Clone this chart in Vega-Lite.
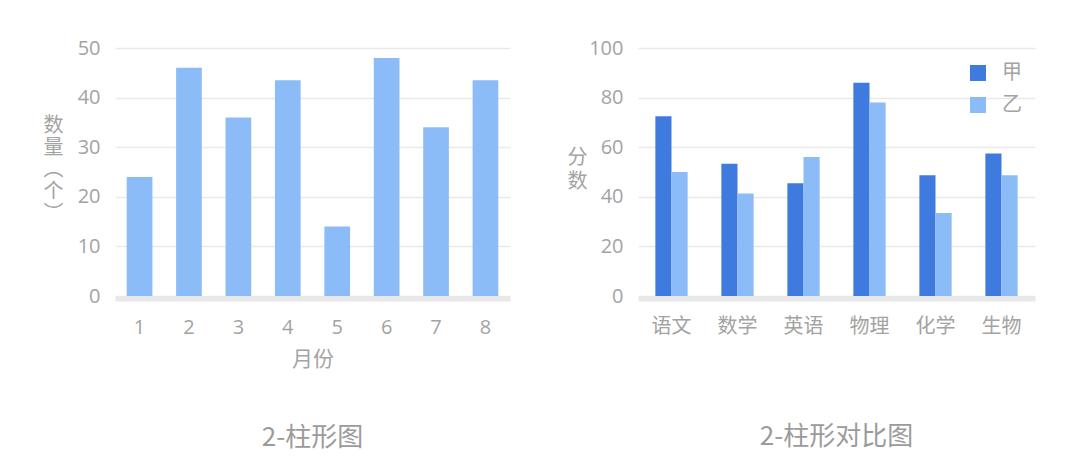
{
  "$schema": "https://vega.github.io/schema/vega-lite/v6.json",
  "background": "white",
  "padding": {"left": 43, "top": 38, "right": 45, "bottom": 0},
  "bounds": "flush",
  "spacing": 128,
  "config": {
    "view": {"stroke": null},
    "font": "Noto Sans CJK SC",
    "axis": {
      "labelColor": "#a3a3a3",
      "titleColor": "#a3a3a3",
      "labelFont": "Open Sans, Noto Sans CJK SC",
      "labelFontSize": 20,
      "titleFont": "Noto Sans CJK SC",
      "titleFontSize": 20,
      "titleFontWeight": "normal",
      "ticks": false,
      "tickSize": 0,
      "gridColor": "#e9e9e9",
      "gridWidth": 1.5
    },
    "title": {"fontSize": 26, "fontWeight": "normal", "color": "#9b9b9b"}
  },
  "hconcat": [
    {
      "width": 395,
      "height": 248,
      "title": {"text": "2-柱形图", "orient": "bottom", "offset": 55},
      "data": {
        "values": [
          {"month": "1", "count": 24},
          {"month": "2", "count": 46},
          {"month": "3", "count": 36},
          {"month": "4", "count": 43.5},
          {"month": "5", "count": 14},
          {"month": "6", "count": 48},
          {"month": "7", "count": 34},
          {"month": "8", "count": 43.5}
        ]
      },
      "mark": {"type": "bar", "color": "#8cbcf8"},
      "encoding": {
        "x": {
          "field": "month",
          "type": "ordinal",
          "scale": {"paddingInner": 0.48, "paddingOuter": 0.237},
          "axis": {
            "title": "月份",
            "titleFontSize": 21,
            "titlePadding": 11,
            "labelAngle": 0,
            "labelPadding": 19,
            "offset": 2.5,
            "domain": true,
            "domainColor": "#e8e8e8",
            "domainWidth": 5,
            "grid": false
          }
        },
        "y": {
          "field": "count",
          "type": "quantitative",
          "scale": {"domain": [0, 50]},
          "axis": {
            "values": [0, 10, 20, 30, 40, 50],
            "domain": false,
            "labelPadding": 15,
            "title": ["数", "量", "︵", "个", "︶"],
            "titleAngle": 0,
            "titleX": -62,
            "titleY": 77,
            "titleAlign": "center",
            "titleBaseline": "middle",
            "titleLineHeight": 22
          }
        }
      }
    },
    {
      "width": 397,
      "height": 248,
      "title": {"text": "2-柱形对比图", "orient": "bottom", "offset": 87},
      "data": {
        "values": [
          {"subject": "语文", "student": "甲", "score": 72.5},
          {"subject": "语文", "student": "乙", "score": 50},
          {"subject": "数学", "student": "甲", "score": 53.3},
          {"subject": "数学", "student": "乙", "score": 41.3},
          {"subject": "英语", "student": "甲", "score": 45.5},
          {"subject": "英语", "student": "乙", "score": 56},
          {"subject": "物理", "student": "甲", "score": 86},
          {"subject": "物理", "student": "乙", "score": 78},
          {"subject": "化学", "student": "甲", "score": 48.7},
          {"subject": "化学", "student": "乙", "score": 33.5},
          {"subject": "生物", "student": "甲", "score": 57.5},
          {"subject": "生物", "student": "乙", "score": 48.7}
        ]
      },
      "mark": {"type": "bar"},
      "encoding": {
        "x": {
          "field": "subject",
          "type": "nominal",
          "sort": null,
          "scale": {"paddingInner": 0.511, "paddingOuter": 0.263},
          "axis": {
            "title": null,
            "labelAngle": 0,
            "labelFontSize": 20,
            "labelPadding": 18,
            "offset": 2.5,
            "domain": true,
            "domainColor": "#e8e8e8",
            "domainWidth": 5,
            "grid": false
          }
        },
        "xOffset": {
          "field": "student",
          "type": "nominal",
          "sort": ["甲", "乙"],
          "scale": {"paddingInner": 0, "paddingOuter": 0}
        },
        "y": {
          "field": "score",
          "type": "quantitative",
          "scale": {"domain": [0, 100]},
          "axis": {
            "values": [0, 20, 40, 60, 80, 100],
            "domain": false,
            "labelPadding": 15,
            "title": ["分", "数"],
            "titleAngle": 0,
            "titleX": -61,
            "titleY": 109,
            "titleAlign": "center",
            "titleBaseline": "middle",
            "titleLineHeight": 24
          }
        },
        "color": {
          "field": "student",
          "type": "nominal",
          "sort": ["甲", "乙"],
          "scale": {"domain": ["甲", "乙"], "range": ["#3f7bdf", "#8cbcf8"]},
          "legend": {
            "title": null,
            "orient": "none",
            "legendX": 853,
            "legendY": 15,
            "symbolType": "square",
            "symbolSize": 256,
            "symbolStrokeWidth": 0,
            "labelFont": "Noto Sans CJK SC",
            "labelFontSize": 20,
            "labelColor": "#a3a3a3",
            "labelOffset": 14,
            "rowPadding": 12,
            "padding": 0
          }
        }
      }
    }
  ]
}
